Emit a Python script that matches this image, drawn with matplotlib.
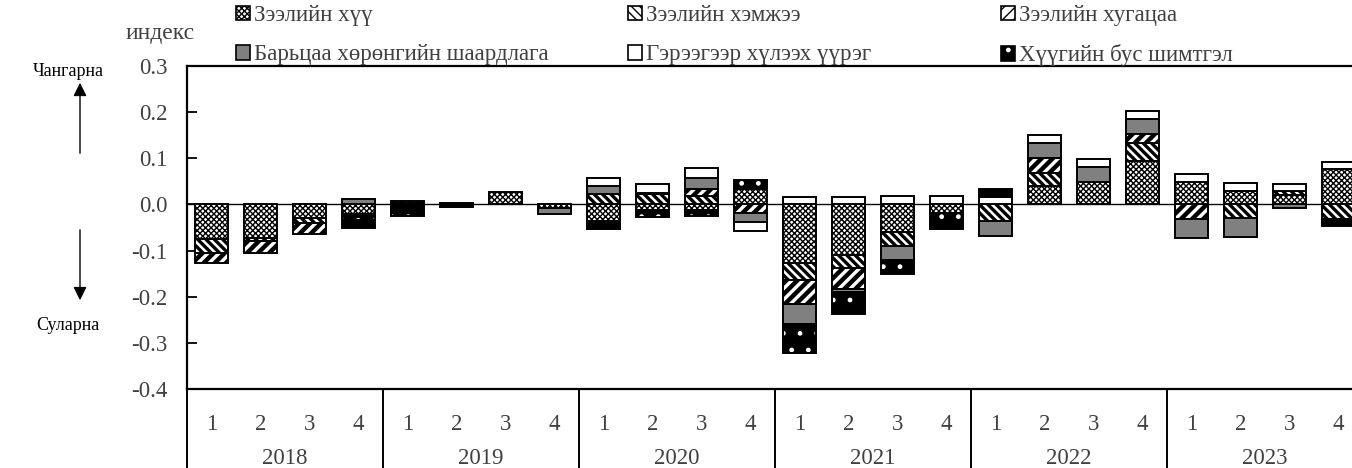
import matplotlib.pyplot as plt
import numpy as np
from matplotlib.patches import Patch
from matplotlib.legend_handler import HandlerTuple

plt.rcParams['font.family'] = ['Liberation Serif', 'DejaVu Serif']
plt.rcParams['axes.unicode_minus'] = False

# quarters 2018Q1 ... 2023Q4
years = ["2018", "2019", "2020", "2021", "2022", "2023"]
quarters = ["1", "2", "3", "4"]

names = ["Зээлийн хүү", "Зээлийн хэмжээ", "Зээлийн хугацаа",
         "Барьцаа хөрөнгийн шаардлага", "Гэрээгээр хүлээх үүрэг",
         "Хүүгийн бус шимтгэл"]

hyy = [-0.075, -0.072, -0.030, -0.020,
       0.003, 0.002, 0.026, -0.008,
       -0.035, -0.011, -0.013, 0.033,
       -0.127, -0.109, -0.060, -0.018,
       0.000, 0.039, 0.049, 0.094,
       0.049, 0.029, 0.021, 0.076]
hemjee = [-0.030, -0.007, -0.010, -0.004,
          0.005, 0.002, 0.0, 0.0,
          0.023, 0.022, 0.018, 0.0,
          -0.036, -0.028, -0.031, 0.0,
          -0.036, 0.030, 0.0, 0.040,
          0.0, -0.030, 0.009, -0.031]
hugatsaa = [-0.022, -0.027, -0.025, -0.003,
            0.0, 0.0, 0.0, 0.0,
            -0.004, 0.0, 0.015, -0.019,
            -0.053, -0.047, 0.0, 0.0,
            0.0, 0.031, 0.0, 0.018,
            -0.031, 0.0, 0.0, 0.0]
baritsaa = [0.0, 0.0, 0.0, 0.011,
            0.0, 0.0, 0.0, -0.012,
            0.017, 0.003, 0.025, -0.018,
            -0.043, -0.005, -0.029, 0.0,
            -0.033, 0.033, 0.032, 0.034,
            -0.041, -0.040, -0.008, 0.0]
geree = [0.0, 0.0, 0.0, 0.0,
         0.0, 0.0, 0.0, 0.0,
         0.018, 0.019, 0.020, -0.020,
         0.017, 0.017, 0.018, 0.018,
         0.016, 0.018, 0.017, 0.017,
         0.018, 0.017, 0.015, 0.016]
shimtgel = [0.0, 0.0, 0.0, -0.025,
            -0.024, -0.005, 0.0, 0.0,
            -0.014, -0.016, -0.013, 0.020,
            -0.063, -0.049, -0.030, -0.036,
            0.017, 0.0, 0.0, 0.0,
            0.0, 0.0, 0.0, -0.015]

series = [hyy, hemjee, hugatsaa, baritsaa, geree, shimtgel]

# face, hatch, hatch linewidth
styles = [("white", "xxxxxx", 1.0),
          ("white", "\\\\\\\\", 2.4),
          ("white", "///", 3.2),
          ("#808080", None, 1.0),
          ("white", None, 1.0),
          ("black", ".", 1.0)]

W, H = 1352, 468
fig = plt.figure(figsize=(W / 100, H / 100), dpi=100)
ax = fig.add_axes([187 / W, 1 - 389 / H, (1363 - 187) / W, (389 - 66) / H])

x = np.arange(len(hyy))
bw = 0.68
pos_base = np.zeros(len(x))
neg_base = np.zeros(len(x))

for vals, (fc, hatch, hlw) in zip(series, styles):
    v = np.array(vals)
    base = np.where(v >= 0, pos_base, neg_base)
    m = v != 0
    with plt.rc_context({'hatch.linewidth': hlw}):
        if fc == "black":
            ax.bar(x[m], v[m], bw, bottom=base[m], facecolor="black",
                   edgecolor="white", hatch=hatch, linewidth=0, zorder=2)
            ax.bar(x[m], v[m], bw, bottom=base[m], fill=False,
                   edgecolor="black", linewidth=1.4, zorder=3)
        else:
            ax.bar(x[m], v[m], bw, bottom=base[m], facecolor=fc,
                   edgecolor="black", hatch=hatch, linewidth=1.4, zorder=2)
    pos_base += np.clip(v, 0, None)
    neg_base += np.clip(v, None, 0)

ax.axhline(0, color="black", lw=1.0, zorder=1)

yt = np.round(np.arange(-0.4, 0.31, 0.1), 1) + 0.0
ax.set_xlim(-0.5, len(x) - 0.5)
ax.set_ylim(-0.4, 0.3)
ax.set_yticks(yt)
ax.set_yticklabels(["%.1f" % abs(t) if abs(t) < 1e-9 else "%.1f" % t for t in yt])
ax.tick_params(axis="y", direction="in", length=7, width=1.3,
               labelsize=16.5, labelcolor="#404040", pad=14)
ax.set_xticks([])
for s in ax.spines.values():
    s.set_linewidth(1.6)

# category axis below the plot
tr = ax.get_xaxis_transform()
axh = 389 - 66
for i in range(len(x)):
    ax.text(x[i], -(424 - 389) / axh, quarters[i % 4], transform=tr,
            ha="center", va="center", fontsize=16.5, color="#404040")
for j, yr in enumerate(years):
    ax.text(j * 4 + 1.5, -(459 - 389) / axh, yr, transform=tr,
            ha="center", va="center", fontsize=16.5, color="#404040")
for j in range(len(years) + 1):
    ax.plot([j * 4 - 0.5, j * 4 - 0.5], [0, -(470 - 389) / axh],
            transform=tr, color="black", lw=1.4, clip_on=False)

# legend, three equal columns
def handle(k):
    fc, hatch, hlw = styles[k]
    with plt.rc_context({'hatch.linewidth': min(hlw, 1.5)}):
        if fc == "black":
            return (Patch(facecolor="black", edgecolor="white", hatch=hatch, linewidth=0),
                    Patch(fill=False, edgecolor="black", linewidth=1.2))
        return Patch(facecolor=fc, edgecolor="black", hatch=hatch, linewidth=1.2)

col_x = [236, 628, 1001]
for c in range(3):
    hs = [handle(c), handle(c + 3)]
    leg = fig.legend(hs, [names[c], names[c + 3]], loc="upper left",
                     bbox_to_anchor=(col_x[c] / W, 1 - 5 / H), frameon=False,
                     fontsize=16.5, handlelength=0.6, handleheight=0.6,
                     handletextpad=0.2, labelspacing=0.8, borderpad=0,
                     borderaxespad=0, handler_map={tuple: HandlerTuple(ndivide=1)})
    for t in leg.get_texts():
        t.set_color("#404040")

fig.text(160 / W, 1 - 33 / H, "индекс", ha="center", va="center",
         fontsize=17, color="#404040")
fig.text(68 / W, 1 - 71 / H, "Чангарна", ha="center", va="center", fontsize=13)
fig.text(68 / W, 1 - 326 / H, "Суларна", ha="center", va="center", fontsize=13)
ax.annotate("", xy=(80 / W, 1 - 80 / H), xytext=(80 / W, 1 - 156 / H),
            xycoords="figure fraction", textcoords="figure fraction",
            arrowprops=dict(arrowstyle="-|>", color="black", lw=1.0, mutation_scale=20))
ax.annotate("", xy=(80 / W, 1 - 303 / H), xytext=(80 / W, 1 - 227 / H),
            xycoords="figure fraction", textcoords="figure fraction",
            arrowprops=dict(arrowstyle="-|>", color="black", lw=1.0, mutation_scale=20))

fig.savefig("out.png", dpi=100)
